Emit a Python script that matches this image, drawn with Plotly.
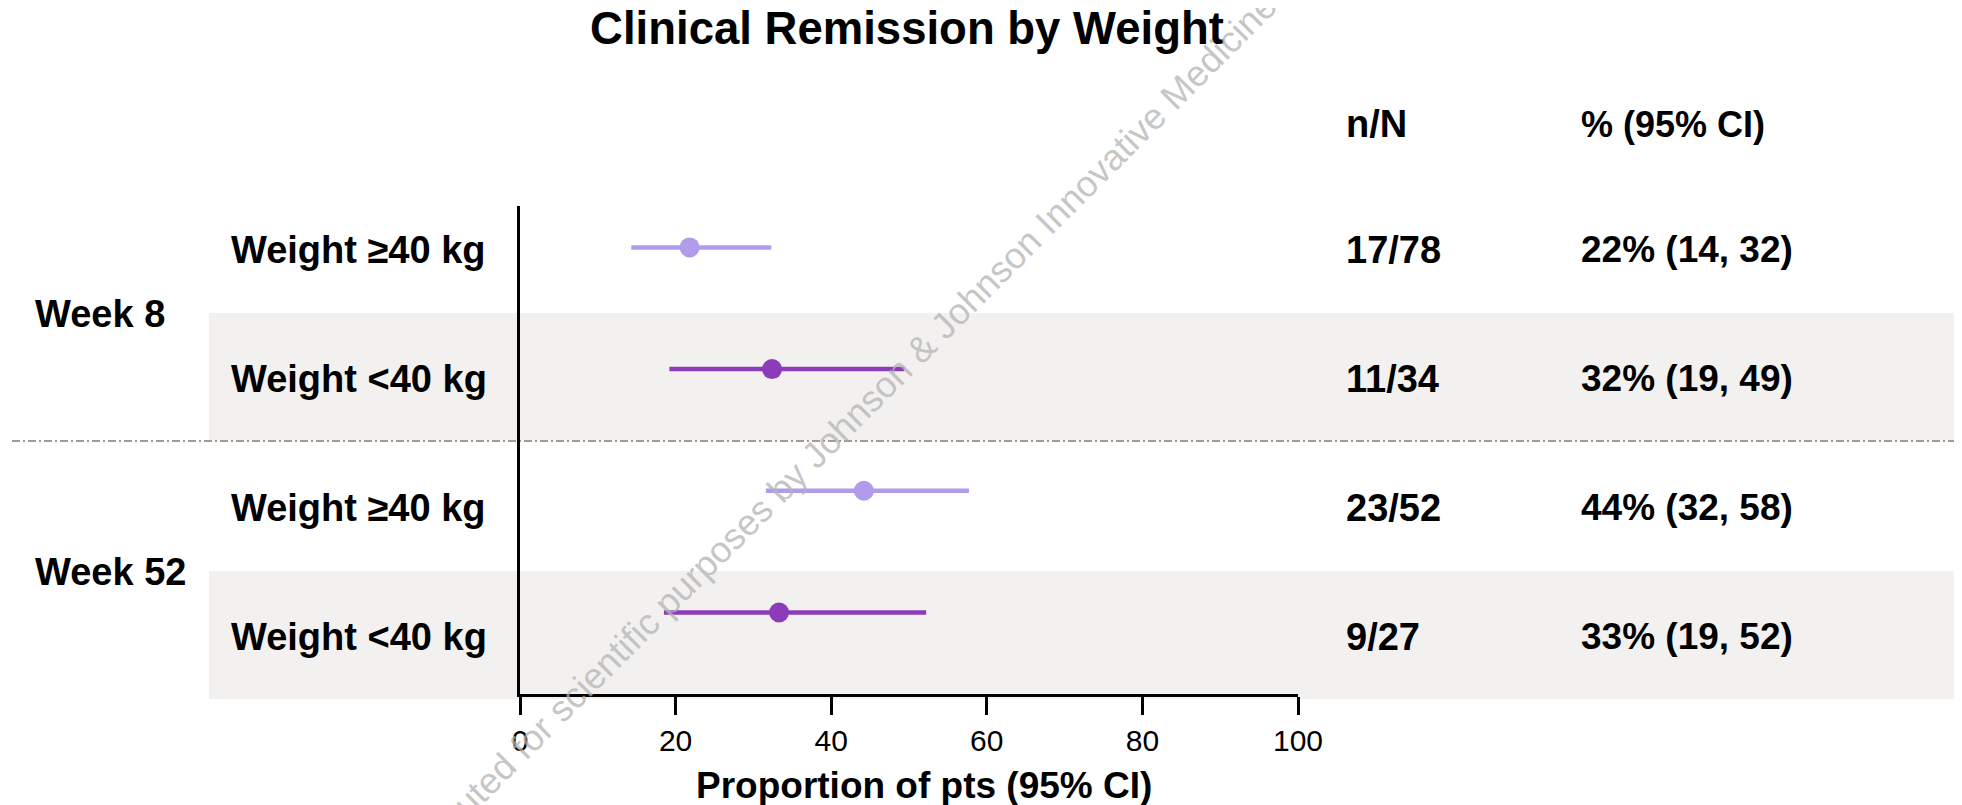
import plotly.graph_objects as go

# ---- data ----
weeks = ["Week 8", "Week 52"]
subgroups = ["Weight ≥40 kg", "Weight <40 kg", "Weight ≥40 kg", "Weight <40 kg"]
n_over_N = ["17/78", "11/34", "23/52", "9/27"]
pct_ci = ["22% (14, 32)", "32% (19, 49)", "44% (32, 58)", "33% (19, 52)"]
estimate = [21.8, 32.4, 44.2, 33.3]
ci_low = [14.3, 19.2, 31.6, 18.5]
ci_high = [32.3, 49.4, 57.7, 52.2]
row_pos = [0, 1, 2, 3]
week_pos = [0.5, 2.5]
x_ticks = [0, 20, 40, 60, 80, 100]

# ---- style / geometry (page pixels; page body has an 8px default margin) ----
FONT = "Liberation Sans, Arial, sans-serif"
colors = ["#B09CEA", "#8C3CB9", "#B09CEA", "#8C3CB9"]
OFF = 8
W, H = 1962 - OFF, 805 - OFF
PLOT_L, PLOT_R, PLOT_T, PLOT_B = 520, 1298, 206, 694
ML = PLOT_L - OFF
MR = W - (PLOT_R - OFF)
MT = PLOT_T - OFF
MB = H - (PLOT_B - OFF)


def px_to_paper_x(px):
    return (px - PLOT_L) / (PLOT_R - PLOT_L)


def px_to_paper_y(py):
    return (PLOT_B - py) / (PLOT_B - PLOT_T)


fig = go.Figure()

for i in range(len(estimate)):
    fig.add_trace(go.Scatter(
        x=[estimate[i]], y=[row_pos[i]], mode="markers",
        marker=dict(size=20, color=colors[i], line=dict(width=0)),
        error_x=dict(type="data", symmetric=False,
                     array=[ci_high[i] - estimate[i]],
                     arrayminus=[estimate[i] - ci_low[i]],
                     color=colors[i], thickness=4.5, width=0),
        showlegend=False, hoverinfo="skip", cliponaxis=False,
    ))

# invisible trace to activate the row-text axis
fig.add_trace(go.Scatter(x=[None], y=[None], yaxis="y2", showlegend=False))

shapes = []
for top, bot in [(313, 441), (571, 699)]:
    shapes.append(dict(type="rect", xref="paper", yref="paper",
                       x0=px_to_paper_x(209), x1=px_to_paper_x(1975),
                       y0=px_to_paper_y(bot), y1=px_to_paper_y(top),
                       fillcolor="#F2F1F0", line=dict(width=0), layer="below"))
shapes.append(dict(type="line", xref="paper", yref="paper",
                   x0=px_to_paper_x(12), x1=px_to_paper_x(1975),
                   y0=px_to_paper_y(441), y1=px_to_paper_y(441),
                   line=dict(color="#A39A90", width=2, dash="8px,3px,2px,3px"),
                   layer="below"))

annotations = []
for i in range(len(subgroups)):
    annotations.append(dict(x=px_to_paper_x(229), xref="paper", y=row_pos[i], yref="y2",
                            text="<b>%s</b>" % subgroups[i], showarrow=False,
                            xanchor="left", yanchor="middle",
                            font=dict(family=FONT, size=38, color="black")))
    annotations.append(dict(x=px_to_paper_x(1344), xref="paper", y=row_pos[i], yref="y2",
                            text="<b>%s</b>" % n_over_N[i], showarrow=False,
                            xanchor="left", yanchor="middle",
                            font=dict(family=FONT, size=38, color="black")))
    annotations.append(dict(x=px_to_paper_x(1579), xref="paper", y=row_pos[i], yref="y2",
                            text="<b>%s</b>" % pct_ci[i], showarrow=False,
                            xanchor="left", yanchor="middle",
                            font=dict(family=FONT, size=37, color="black")))
for j in range(len(weeks)):
    annotations.append(dict(x=px_to_paper_x(33), xref="paper", y=week_pos[j], yref="y2",
                            text="<b>%s</b>" % weeks[j], showarrow=False,
                            xanchor="left", yanchor="middle",
                            font=dict(family=FONT, size=38, color="black")))
annotations.append(dict(x=px_to_paper_x(1344), xref="paper", y=px_to_paper_y(124), yref="paper",
                        text="<b>n/N</b>", showarrow=False, xanchor="left", yanchor="middle",
                        font=dict(family=FONT, size=38, color="black")))
annotations.append(dict(x=px_to_paper_x(1579), xref="paper", y=px_to_paper_y(124), yref="paper",
                        text="<b>% (95% CI)</b>", showarrow=False, xanchor="left", yanchor="middle",
                        font=dict(family=FONT, size=36, color="black")))
# x-axis title
annotations.append(dict(x=px_to_paper_x(924), xref="paper", y=px_to_paper_y(786), yref="paper",
                        text="<b>Proportion of pts (95% CI)</b>", showarrow=False,
                        xanchor="center", yanchor="middle",
                        font=dict(family=FONT, size=37, color="black")))
# watermark
annotations.append(dict(x=px_to_paper_x(828), xref="paper", y=px_to_paper_y(441), yref="paper",
                        text="Distributed for scientific purposes by Johnson &amp; Johnson Innovative Medicine",
                        showarrow=False, textangle=-45, xanchor="center", yanchor="middle",
                        font=dict(family=FONT, size=36.5, color="rgba(180,180,180,0.75)")))

fig.update_layout(
    width=W, height=H,
    margin=dict(l=ML, r=MR, t=MT, b=MB, pad=0, autoexpand=False),
    paper_bgcolor="white", plot_bgcolor="rgba(0,0,0,0)",
    title=dict(text="<b>Clinical Remission by Weight</b>", x=(907 - OFF) / W, xanchor="center",
               y=1 - (28 - OFF) / H, yanchor="middle",
               font=dict(family=FONT, size=45.5, color="black")),
    xaxis=dict(range=[0, 100], tickvals=x_ticks, ticks="outside", ticklen=18, tickwidth=3,
               tickcolor="black", showline=True, linewidth=3, linecolor="black",
               showgrid=False, zeroline=False, automargin=False,
               tickfont=dict(family=FONT, size=30, color="black")),
    yaxis=dict(range=[3.67, -0.34], showline=True, linewidth=3, linecolor="black",
               showticklabels=False, ticks="", showgrid=False, zeroline=False,
               automargin=False),
    yaxis2=dict(range=[3.442, -0.341], overlaying="y", showline=False, showticklabels=False,
                ticks="", showgrid=False, zeroline=False, automargin=False),
    shapes=shapes, annotations=annotations,
)

fig.write_html("out.html")
